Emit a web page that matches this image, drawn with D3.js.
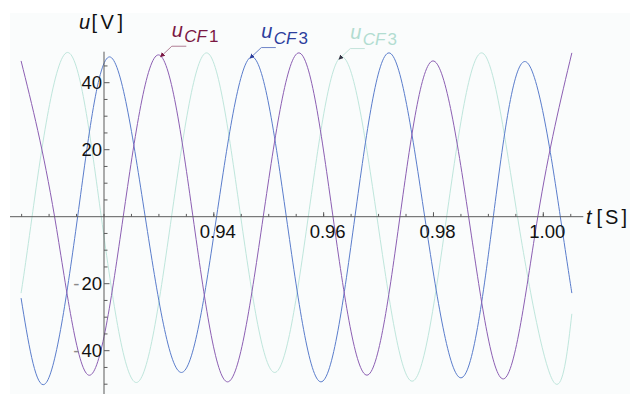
<!DOCTYPE html>
<html>
<head>
<meta charset="utf-8">
<script src="https://cdn.jsdelivr.net/npm/d3@7"></script>
<style>
  body { margin: 0; background: #fff; }
  svg { display: block; font-family: "Liberation Sans", Arial, sans-serif; }
</style>
</head>
<body>
<div id="chart"></div>
<script>
// three phase voltages: peaks, troughs and zero crossings
var timeCF1 = [0.9049, 0.9110, 0.9172, 0.9235, 0.9299, 0.9362, 0.9425, 0.9490, 0.9555, 0.9617, 0.9679, 0.9739, 0.9799, 0.9864, 0.9928, 0.9990, 1.0052];
var voltCF1 = [46.5, 0, -47.3, 0, 48.3, 0, -49.3, 0, 48.9, 0, -47.3, 0, 46.5, 0, -48.4, 0, 48.9];

var timeCF3 = [0.9049, 0.9095, 0.9152, 0.9210, 0.9275, 0.9341, 0.9405, 0.9469, 0.9532, 0.9595, 0.9657, 0.9719, 0.9784, 0.9850, 0.9909, 0.9969, 1.0031, 1.0052];
var voltCF3 = [-24.3, -49.5, 0, 47.7, 0, -46.5, 0, 47.7, 0, -49.3, 0, 48.9, 0, -48.1, 0, 46.2, 0, -22.8];

var timeCF3b = [0.9049, 0.9069, 0.9131, 0.9195, 0.9259, 0.9323, 0.9387, 0.9449, 0.9511, 0.9572, 0.9633, 0.9697, 0.9761, 0.9824, 0.9888, 0.9953, 1.0018, 1.0052];
var voltCF3b = [-22.8, 0, 48.9, 0, -49.5, 0, 48.9, 0, -46.5, 0, 47.7, 0, -49.1, 0, 48.9, 0, -49.1, -29.0];

// tick values
var xMajorTicks = [0.94, 0.96, 0.98, 1.00];
var xMinorTicks = d3.range(0.905, 1.0051, 0.005);
var yMajorTicks = [-40, -20, 20, 40];
var yMinorTicks = [-50, -45, -35, -30, -25, -15, -10, -5, 5, 10, 15, 25, 30, 35, 45];

// callout labels: name, subscript, anchor on the curve
var calloutSub = ["CF", "CF", "CF"];
var calloutNum = ["1", "3", "3"];
var calloutTime = [0.9308, 0.9471, 0.9633];
var calloutVolt = [48.5, 48.1, 47.8];

(function(){
  var width = 630, height = 394;
  var curveColors = ["#8c5fb3", "#5a7dcc", "#bfe6dc"];
  var labelColors = ["#7a1843", "#2c3e9c", "#b2ddd1"];
  var leaderColors = ["#b07f95", "#6d84c8", "#c3e3da"];

  var svg = d3.select("#chart").append("svg")
    .attr("width", width)
    .attr("height", height);

  // faint plot panel
  svg.append("rect")
    .attr("x", 10).attr("y", 13)
    .attr("width", width - 10).attr("height", height - 13)
    .attr("fill", "#fafcfc");

  var x = d3.scaleLinear().domain([0.92, 1.00]).range([104, 543.3]);
  var y = d3.scaleLinear().domain([-40, 40]).range([350.7, 82.7]);

  var axisColor = "#5a5a5a";

  // curves
  var line = d3.line()
    .x(function(d){ return x(d[0]); })
    .y(function(d){ return y(d[1]); })
    .curve(d3.curveNatural);

  var series = [
    d3.zip(timeCF3b, voltCF3b),
    d3.zip(timeCF3, voltCF3),
    d3.zip(timeCF1, voltCF1)
  ];
  var seriesColor = [curveColors[2], curveColors[1], curveColors[0]];

  series.forEach(function(s, i){
    svg.append("path")
      .datum(s)
      .attr("d", line)
      .attr("fill", "none")
      .attr("stroke", seriesColor[i])
      .attr("stroke-width", 1);
  });

  // x axis: line, minor ticks, major ticks + labels
  var xAxisG = svg.append("g").attr("transform", "translate(0," + y(0) + ")");
  xAxisG.append("line")
    .attr("x1", 10).attr("x2", 583.3)
    .attr("stroke", axisColor).attr("stroke-width", 1);
  xAxisG.selectAll(".xminor").data(xMinorTicks).enter().append("line")
    .attr("x1", function(d){ return x(d); }).attr("x2", function(d){ return x(d); })
    .attr("y1", 0).attr("y2", -2.8)
    .attr("stroke", axisColor);
  xAxisG.selectAll(".xmajor").data(xMajorTicks).enter().append("line")
    .attr("x1", function(d){ return x(d); }).attr("x2", function(d){ return x(d); })
    .attr("y1", 0).attr("y2", -4.5)
    .attr("stroke", axisColor);
  xAxisG.selectAll(".xlab").data(xMajorTicks).enter().append("text")
    .attr("x", function(d){ return x(d) + 4; })
    .attr("y", 21.5)
    .attr("text-anchor", "middle")
    .attr("font-size", "18.5px")
    .attr("fill", "#111")
    .text(function(d){ return d3.format(".2f")(d); });

  // y axis
  var yAxisG = svg.append("g").attr("transform", "translate(" + x(0.92) + ",0)");
  yAxisG.append("line")
    .attr("y1", 51.7).attr("y2", 394)
    .attr("stroke", axisColor).attr("stroke-width", 1);
  yAxisG.selectAll(".yminor").data(yMinorTicks).enter().append("line")
    .attr("y1", function(d){ return y(d); }).attr("y2", function(d){ return y(d); })
    .attr("x1", 0).attr("x2", 3.5)
    .attr("stroke", axisColor);
  yAxisG.selectAll(".ymajor").data(yMajorTicks).enter().append("line")
    .attr("y1", function(d){ return y(d); }).attr("y2", function(d){ return y(d); })
    .attr("x1", 0).attr("x2", 5.5)
    .attr("stroke", axisColor);
  var ylab = yAxisG.selectAll(".ylab").data(yMajorTicks).enter().append("text")
    .attr("x", -2)
    .attr("y", function(d){ return y(d) + 6.6; })
    .attr("text-anchor", "end")
    .attr("font-size", "18.5px")
    .attr("fill", "#111");
  ylab.filter(function(d){ return d < 0; }).append("tspan")
    .attr("fill", "#8a8a8a")
    .text("-");
  ylab.append("tspan")
    .attr("dx", function(d){ return d < 0 ? 2 : 0; })
    .text(function(d){ return Math.abs(d); });

  // axis titles
  var uTitle = svg.append("text").attr("y", 28.5).attr("font-size", "20px").attr("fill", "#111");
  uTitle.append("tspan").attr("x", 79).attr("font-style", "italic").text("u");
  uTitle.append("tspan").attr("x", 91.5).attr("textLength", 31.5).attr("lengthAdjust", "spacing").text("[V]");

  var tTitle = svg.append("text").attr("y", 224).attr("font-size", "20px").attr("fill", "#111");
  tTitle.append("tspan").attr("x", 586).attr("font-style", "italic").text("t");
  tTitle.append("tspan").attr("x", 596.5).attr("textLength", 30.5).attr("lengthAdjust", "spacing").text("[S]");

  // callouts
  var defs = svg.append("defs");
  labelColors.forEach(function(c, i){
    defs.append("marker")
      .attr("id", "tip" + i)
      .attr("viewBox", "0 0 10 10")
      .attr("refX", 1).attr("refY", 5)
      .attr("markerWidth", 5).attr("markerHeight", 5)
      .attr("orient", "auto-start-reverse")
      .append("path")
      .attr("d", "M0,0 L10,5 L0,10 z")
      .attr("fill", i == 2 ? "#334" : c);
  });

  calloutTime.forEach(function(t, i){
    var ax = x(t), ay = y(calloutVolt[i]);
    svg.append("path")
      .attr("d", "M" + ax + "," + ay + " L" + (ax + 8.5) + "," + (ay - 8) + " L" + (ax + 23) + "," + (ay - 8))
      .attr("fill", "none")
      .attr("stroke", leaderColors[i])
      .attr("stroke-width", 1)
      .attr("marker-start", "url(#tip" + i + ")");
    var lab = svg.append("text")
      .attr("fill", labelColors[i]);
    lab.append("tspan")
      .attr("x", ax + 8.5).attr("y", ay - 17.5)
      .attr("font-size", "20px").attr("font-style", "italic")
      .text("u");
    lab.append("tspan")
      .attr("x", ax + 21).attr("y", ay - 12)
      .attr("font-size", "17px").attr("font-style", "italic")
      .text(calloutSub[i]);
    lab.append("tspan")
      .attr("dx", 2)
      .attr("font-size", "17px")
      .text(calloutNum[i]);
  });
})();
</script>
</body>
</html>
